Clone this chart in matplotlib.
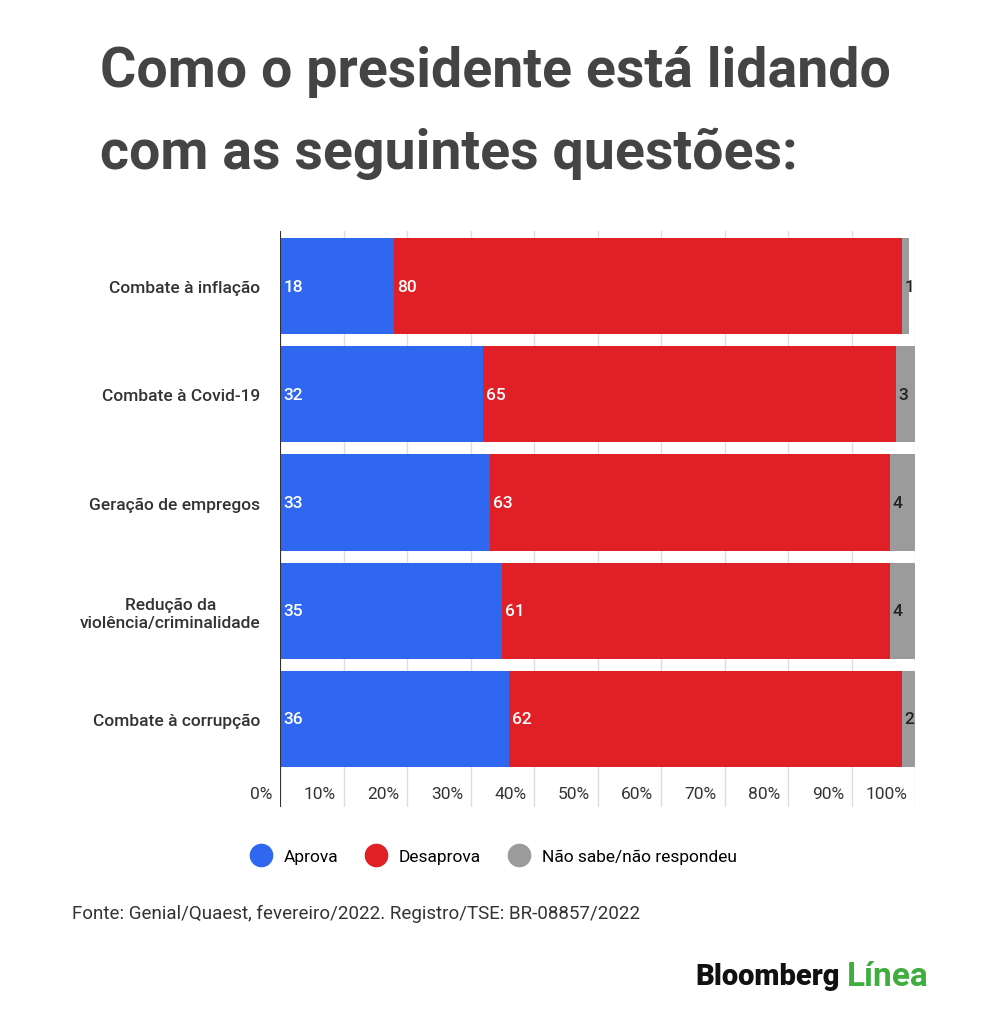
import matplotlib
matplotlib.use("Agg")
import matplotlib.pyplot as plt
from matplotlib.lines import Line2D

categories = ["Combate à inflação", "Combate à Covid-19", "Geração de empregos",
              "Redução da\nviolência/criminalidade", "Combate à corrupção"]
aprova = [18, 32, 33, 35, 36]
desaprova = [80, 65, 63, 61, 62]
nao_sabe = [1, 3, 4, 4, 2]
ticks = [0, 10, 20, 30, 40, 50, 60, 70, 80, 90, 100]
series_names = ["Aprova", "Desaprova", "Não sabe/não respondeu"]
colors = ["#2f67f0", "#e01f26", "#9b9b9b"]

plt.rcParams['font.family'] = ['Roboto', 'DejaVu Sans']
W, H = 1000, 1020
fig = plt.figure(figsize=(W/100, H/100), dpi=100)
fig.patch.set_facecolor("white")

def fx(px): return px / W
def fy(py): return 1 - py / H

ax = fig.add_axes([fx(280), fy(808), fx(915) - fx(280), (808 - 232) / H])
ax.set_xlim(0, 100)
ax.set_ylim(4 + 88/108, -55/108)
for t in ticks:
    ax.axvline(t, color="#dddddd", lw=1, zorder=0)
    ax.text(t - 1.2, 4 + 75/108, f"{t}%", ha="right", va="center", fontsize=12.5, color="#333333")
y = list(range(len(categories)))
left2 = [a for a in aprova]
left3 = [a + d for a, d in zip(aprova, desaprova)]
ax.barh(y, aprova, height=0.89, color=colors[0], zorder=2)
ax.barh(y, desaprova, left=left2, height=0.89, color=colors[1], zorder=2)
ax.barh(y, nao_sabe, left=left3, height=0.89, color=colors[2], zorder=2)
for i in y:
    ax.text(0.5, i, str(aprova[i]), color="white", ha="left", va="center", fontsize=12.5, fontweight="medium", zorder=3)
    ax.text(left2[i] + 0.5, i, str(desaprova[i]), color="white", ha="left", va="center", fontsize=12.5, fontweight="medium", zorder=3)
    ax.text(left3[i] + 0.4, i, str(nao_sabe[i]), color="#222222", ha="left", va="center", fontsize=12.5, fontweight="medium", zorder=3)
ax.axvline(0, color="#333333", lw=1.5, zorder=4)
ax.set_yticks(y)
ax.set_yticklabels(categories, fontsize=12.5, fontweight="medium", color="#333333", ha="right", multialignment="center")
ax.tick_params(axis="y", length=0, pad=14)
ax.set_xticks([])
for s in ax.spines.values():
    s.set_visible(False)

fig.text(fx(100), fy(72), "Como o presidente está lidando", fontsize=40, fontweight="bold", color="#444444", va="center")
fig.text(fx(100), fy(154), "com as seguintes questões:", fontsize=40, fontweight="bold", color="#444444", va="center")

handles = [Line2D([], [], marker="o", ls="", markersize=16, color=c) for c in colors]
fig.legend(handles, series_names, loc="center", bbox_to_anchor=(fx(490), fy(857)), ncol=3,
           frameon=False, fontsize=12.5, handletextpad=0.3, columnspacing=1.2)

fig.text(fx(72), fy(914), "Fonte: Genial/Quaest, fevereiro/2022. Registro/TSE: BR-08857/2022",
         fontsize=13.5, color="#333333", va="center")
fig.text(fx(695), fy(977), "Bloomberg", fontsize=21, fontweight="black", color="#111111", va="center")
fig.text(fx(847), fy(977), "Línea", fontsize=24, fontweight="bold", color="#3fae3f", va="center")

fig.savefig("out.png", dpi=100, facecolor="white")
